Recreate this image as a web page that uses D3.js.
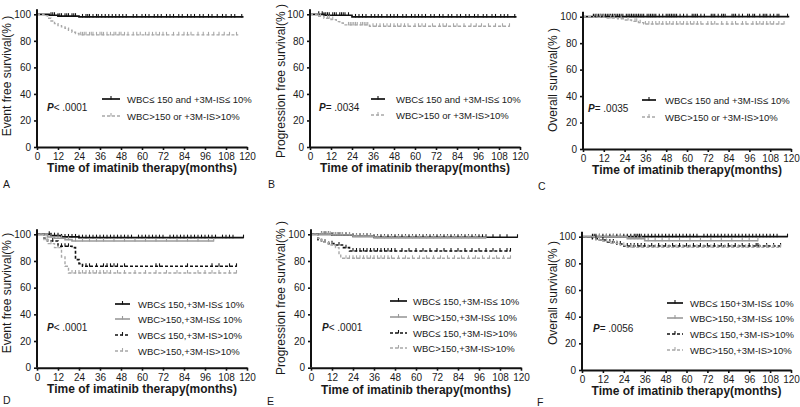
<!DOCTYPE html>
<html><head><meta charset="utf-8">
<script src="https://cdn.jsdelivr.net/npm/d3@7"></script>
<style>body{margin:0;background:#fff}svg{display:block}text{font-family:"Liberation Sans",Arial,sans-serif}</style>
</head><body><svg id="c" width="800" height="407"></svg>
<script>
// ---------- shared ticks / labels ----------
const xTickValues = [0,12,24,36,48,60,72,84,96,108,120];
const yTickValues = [0,20,40,60,80,100];
const xAxisTitle = "Time of imatinib therapy(months)";
const yTitles = ["Event free survival(% )","Progression free survival(% )","Overall survival(% )",
                 "Event free survival(% )","Progression free survival(% )","Overall survival(% )"];
const panelLetters = ["A","B","C","D","E","F"];
const pValues = ["< .0001","= .0034","= .0035","< .0001","< .0001","=  .0056"];
const legend2 = ["WBC\u2264 150 and +3M-IS\u2264 10%","WBC>150 or +3M-IS>10%"];
const legend4 = ["WBC\u2264 150,+3M-IS\u2264 10%","WBC>150,+3M-IS\u2264 10%","WBC\u2264 150,+3M-IS>10%","WBC>150,+3M-IS>10%"];
const legend4F = ["WBC\u2264 150+3M-IS\u2264 10%","WBC>150,+3M-IS\u2264 10%","WBC\u2264 150,+3M-IS>10%","WBC>150,+3M-IS>10%"];

// ---------- Panel A (EFS, 2 groups) ----------
const aLowTime = [0,7,12,24], aLowSurv = [100,99.3,98.6,98], aLowEnd = 118;
const aLowCens = [8,9,10,12,13,14,16,17,18,20,21,22,26,28,29,30,32,34,35,37,39,41,43,45,47,49,51,55,57,60,62,64,67,69,71,74,76,78,81,83,86,88,90,93,95,98,100,103,106,108,111,113,117];
const aHighTime = [0,4,6,8,10,12,14,16,18,20,22,24], aHighSurv = [100,99,97,95,93,91.5,90.5,89.5,88,86.5,85.5,84.5], aHighEnd = 115;
const aHighCens = [25,26,27,28,30,31,32,34,36,37,38,40,42,44,45,47,48,50,52,55,57,59,62,64,66,68,70,72,74,78,81,84,86,88,92,95,98,101,104,107,110,114];

// ---------- Panel B (PFS, 2 groups) ----------
const bLowTime = [0,8,24], bLowSurv = [100,99.3,98], bLowEnd = 118;
const bLowCens = [5,7,8,9,10,11,13,14,15,17,18,19,20,22,26,28,30,32,35,37,39,41,44,46,48,50,53,55,58,60,62,64,66,69,71,74,76,79,81,84,86,89,91,94,96,99,101,104,106,109,111,113,117];
const bHighTime = [0,4,8,12,15,17,19,34], bHighSurv = [100,98.5,97,96,94.5,93.5,92,91], bHighEnd = 114;
const bHighCens = [5,6,10,11,13,22,23,24,25,26,27,29,30,31,32,33,36,38,40,42,44,46,48,50,52,54,56,60,62,64,66,70,74,76,78,82,84,88,92,95,98,102,106,110,114];

// ---------- Panel C (OS, 2 groups) ----------
const cLowTime = [0], cLowSurv = [100], cLowEnd = 119;
const cLowCens = [6,7,8,9,10,11,12,13,14,15,16,17,18,19,20,21,22,23,25,26,27,28,29,30,31,32,33,34,35,37,38,39,40,41,42,44,46,48,49,50,51,52,53,54,56,58,60,63,64,65,66,68,70,74,75,76,78,80,81,82,86,87,88,90,92,95,96,98,99,102,104,105,106,108,110,112,113,118];
const cHighTime = [0,6,14,20,24,28,32,35], cHighSurv = [100,99.5,99,98.5,97.5,96.5,95.5,94.5], cHighEnd = 117;
const cHighCens = [8,10,12,16,18,22,26,30,31,33,36,38,40,42,44,46,48,50,52,54,56,58,60,62,64,66,68,72,74,76,80,83,86,88,92,94,98,100,102,104,106,108,110,113,116];

// ---------- Panel D (EFS, 4 groups) ----------
const d1Time = [0,8,14,24], d1Surv = [100,99,98,97.5], d1End = 118;
const d1Cens = [7,8,10,12,14,16,18,20,22,24,26,28,30,32,34,36,38,40,42,44,46,48,50,52,54,58,60,62,64,66,68,70,72,76,78,80,82,84,86,88,90,92,94,96,98,100,102,106,108,110,112,118];
const d2Time = [0,6,10,16,20], d2Surv = [100,98,97,96,95], d2End = 101;
const d2Cens = [8,12,14,18,22,26,30,34,38,44,50,56,62,68,74,80,86,92,98,101];
const d3Time = [0,4,6,12,20,22,24,26], d3Surv = [100,97,95,91,90,81,78,76], d3End = 114;
const d3Cens = [9,14,16,18,28,30,34,38,40,42,44,46,50,68,70,86,100,104,110,114];
const d4Time = [0,4,6,10,14,16,18], d4Surv = [100,96,93,90,83,76,71], d4End = 114;
const d4Cens = [5,8,12,20,22,24,26,28,30,32,34,36,38,40,42,46,50,56,62,68,74,80,86,92,96,100,104,110,114];

// ---------- Panel E (PFS, 4 groups) ----------
const e1Time = [0,12,24,36], e1Surv = [100,99.3,98.5,97.8], e1End = 118;
const e1Cens = [6,8,10,12,14,16,18,20,22,24,26,28,30,32,34,36,38,40,42,44,46,48,50,52,54,56,58,60,62,64,66,68,70,72,74,76,78,80,82,84,86,88,90,92,94,96,98,100,104,108,112,118];
const e2Time = [0,12,24,36], e2Surv = [100,99.5,98.5,97.3], e2End = 100;
const e2Cens = [6,7,8,9,10,11,13,14,15,16,17,18,20,22,26,28,30,32,34,38,42,46,50,54,58,62,66,70,74,78,82,86,90,94,100];
const e3Time = [0,4,6,10,14,18,22], e3Surv = [100,96,94,93,92,90,87.5], e3End = 114;
const e3Cens = [8,12,16,20,24,26,28,30,32,34,36,38,40,42,44,46,48,52,56,60,64,68,72,76,80,84,88,92,96,100,104,108,112,114];
const e4Time = [0,4,6,10,14,16,17], e4Surv = [100,97,94,92,90,85,82], e4End = 114;
const e4Cens = [8,12,20,22,24,26,28,30,32,34,36,38,40,42,44,46,50,54,58,62,66,70,74,78,82,86,90,94,98,102,106,110,114];

// ---------- Panel F (OS, 4 groups) ----------
const f1Time = [0], f1Surv = [100], f1End = 118;
const f1Cens = [6,7,8,10,12,14,16,18,20,22,24,26,28,30,31,32,33,34,36,38,40,42,44,46,48,50,52,54,56,58,60,62,64,66,70,72,74,76,78,80,82,84,86,88,90,92,94,96,98,100,102,104,106,108,110,112,118];
const f2Time = [0,26,36], f2Surv = [100,98.5,97], f2End = 101;
const f2Cens = [10,14,18,22,28,30,32,34,38,42,46,50,56,62,68,74,80,86,92,96,101];
const f3Time = [0,6,10,14,20,24], f3Surv = [100,98.5,97.5,96,94.5,93], f3End = 114;
const f3Cens = [8,12,16,18,22,26,28,30,32,34,36,40,44,48,52,56,60,64,68,72,76,80,84,88,92,96,100,101,106,110,114];
const f4Time = [0,8,12,16,22,26], f4Surv = [100,97.5,96.5,95,93.5,92], f4End = 114;
const f4Cens = [10,14,18,20,24,28,30,34,38,42,46,50,54,58,62,66,70,74,78,82,86,90,94,98,102,106,110,114];

// ---------- styles & layout ----------
const seriesStyles = [
  {color:"#111", dash:null, w:1.7},
  {color:"#9a9a9a", dash:null, w:1.6},
  {color:"#111", dash:"3,2", w:1.6},
  {color:"#a8a8a8", dash:"3,2", w:1.4}
];

const panels = [
  {x0:37,x1:247,yT:14.3,yB:147, yTx:6,yTy:76, xTy:172, L:[3,188], P:[47,111], lg:{x0:102,x1:120,tx:127,ys:[99,116]},
   curves:[[aLowTime,aLowSurv,aLowEnd,aLowCens,0],[aHighTime,aHighSurv,aHighEnd,aHighCens,3]], labels:legend2},
  {x0:310,x1:520,yT:14.3,yB:147, yTx:280,yTy:81, xTy:172, L:[268,188], P:[319,111], lg:{x0:371,x1:385,tx:396,ys:[99,115]},
   curves:[[bLowTime,bLowSurv,bLowEnd,bLowCens,0],[bHighTime,bHighSurv,bHighEnd,bHighCens,3]], labels:legend2},
  {x0:583,x1:791,yT:16.7,yB:149, yTx:552,yTy:80, xTy:174, L:[538,190], P:[588,112], lg:{x0:642,x1:656,tx:665,ys:[100,117]},
   curves:[[cLowTime,cLowSurv,cLowEnd,cLowCens,0],[cHighTime,cHighSurv,cHighEnd,cHighCens,3]], labels:legend2},
  {x0:37,x1:247,yT:234.3,yB:367.7, yTx:6,yTy:293, xTy:393, L:[3,404], P:[47,331], lg:{x0:115,x1:130,tx:138,ys:[304,319,335,351]},
   curves:[[d1Time,d1Surv,d1End,d1Cens,0],[d2Time,d2Surv,d2End,d2Cens,1],[d3Time,d3Surv,d3End,d3Cens,2],[d4Time,d4Surv,d4End,d4Cens,3]], labels:legend4},
  {x0:311,x1:521,yT:234.3,yB:367.7, yTx:280,yTy:298, xTy:394, L:[267,405], P:[322,331], lg:{x0:390,x1:407,tx:413,ys:[301,317,333,348]},
   curves:[[e1Time,e1Surv,e1End,e1Cens,0],[e2Time,e2Surv,e2End,e2Cens,1],[e3Time,e3Surv,e3End,e3Cens,2],[e4Time,e4Surv,e4End,e4Cens,3]], labels:legend4},
  {x0:582,x1:791,yT:236.7,yB:370, yTx:552,yTy:293, xTy:395, L:[537,406], P:[593,332], lg:{x0:667,x1:683,tx:690,ys:[303,318,334,350]},
   curves:[[f1Time,f1Surv,f1End,f1Cens,0],[f2Time,f2Surv,f2End,f2Cens,1],[f3Time,f3Surv,f3End,f3Cens,2],[f4Time,f4Surv,f4End,f4Cens,3]], labels:legend4F}
];

const svg = d3.select("#c");

function survAt(times, surv, t){
  let s = surv[0];
  for(let i=0;i<times.length;i++){ if(times[i] <= t) s = surv[i]; }
  return s;
}

panels.forEach((p, pi) => {
  const g = svg.append("g");
  const x = d3.scaleLinear().domain([0,120]).range([p.x0, p.x1]);
  const y = d3.scaleLinear().domain([0,100]).range([p.yB, p.yT]);

  // curves
  p.curves.forEach(([times, surv, end, cens, si]) => {
    const st = seriesStyles[si];
    const pts = times.map((t,i)=>[t, surv[i]]).concat([[end, surv[surv.length-1]]]);
    const line = d3.line().x(d=>x(d[0])).y(d=>y(d[1])).curve(d3.curveStepAfter);
    g.append("path").attr("d", line(pts)).attr("fill","none")
      .attr("stroke", st.color).attr("stroke-width", st.w)
      .attr("stroke-dasharray", st.dash);
    g.selectAll(null).data(cens).enter().append("line")
      .attr("x1", d=>x(d)).attr("x2", d=>x(d))
      .attr("y1", d=>y(survAt(times,surv,d))-3).attr("y2", d=>y(survAt(times,surv,d))+0.5)
      .attr("stroke", st.color).attr("stroke-width", 1.1);
  });

  // axes
  const xa = d3.axisBottom(x).tickValues(xTickValues).tickSize(3).tickSizeOuter(0);
  const ya = d3.axisLeft(y).tickValues(yTickValues).tickSize(3).tickSizeOuter(0);
  const gx = g.append("g").attr("transform",`translate(0,${p.yB})`).call(xa);
  const gy = g.append("g").attr("transform",`translate(${p.x0},0)`).call(ya);
  [gx,gy].forEach(a=>{
    a.select(".domain").attr("stroke","#111").attr("stroke-width",2);
    a.selectAll(".tick line").attr("stroke","#111").attr("stroke-width",1.6);
    a.selectAll("text").attr("fill","#1a1a1a").style("font-size","10px").style("font-family","'Liberation Sans',Arial,sans-serif");
  });
  gy.select(".domain").attr("d", `M0,${p.yB}V${p.yT-5}`);

  // titles
  g.append("text").attr("x",(p.x0+p.x1)/2).attr("y",p.xTy).attr("text-anchor","middle")
    .style("font-size","12px").style("font-weight","bold").attr("fill","#1a1a1a").text(xAxisTitle);
  g.append("text").attr("transform",`translate(${p.yTx+4.5},${p.yTy}) rotate(-90)`).attr("text-anchor","middle")
    .style("font-size","12px").attr("fill","#1a1a1a").text(yTitles[pi]);
  g.append("text").attr("x",p.L[0]).attr("y",p.L[1]).style("font-size","10.5px").attr("fill","#1a1a1a").text(panelLetters[pi]);

  // p-value
  const pt = g.append("text").attr("x",p.P[0]).attr("y",p.P[1]).style("font-size","10px").attr("fill","#1a1a1a");
  pt.append("tspan").style("font-style","italic").style("font-weight","bold").text("P");
  pt.append("tspan").text(pValues[pi]);

  // legend
  p.curves.forEach((c, i) => {
    const st = seriesStyles[c[4]];
    const yy = p.lg.ys[i];
    g.append("line").attr("x1",p.lg.x0).attr("x2",p.lg.x1).attr("y1",yy).attr("y2",yy)
      .attr("stroke",st.color).attr("stroke-width",st.w).attr("stroke-dasharray",st.dash);
    const mx = (p.lg.x0+p.lg.x1)/2;
    g.append("line").attr("x1",mx).attr("x2",mx).attr("y1",yy-3).attr("y2",yy+0.5)
      .attr("stroke",st.color).attr("stroke-width",1.1);
    g.append("text").attr("x",p.lg.tx).attr("y",yy+3.5).style("font-size","9.5px").attr("fill","#1a1a1a").text(p.labels[i]);
  });
});
</script></body></html>
